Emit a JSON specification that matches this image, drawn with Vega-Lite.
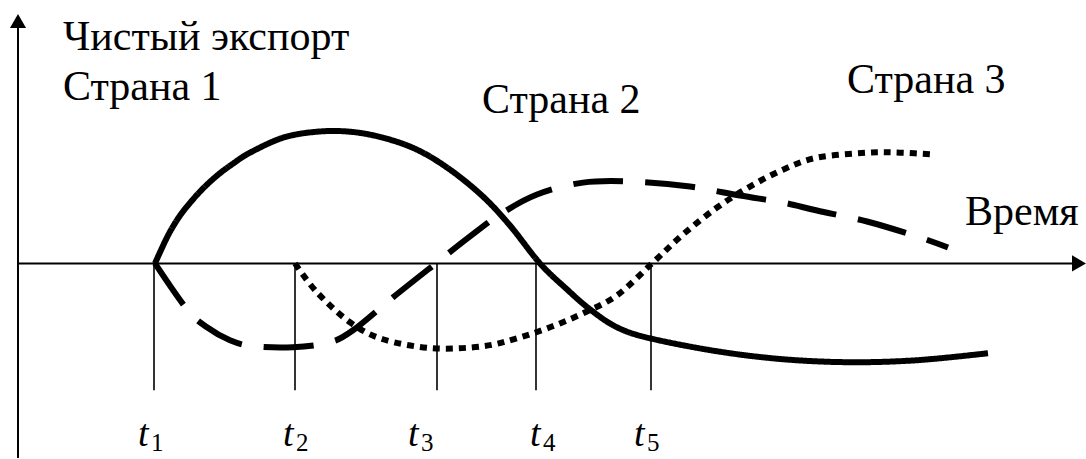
{
  "$schema": "https://vega.github.io/schema/vega-lite/v6.json",
  "autosize": {"type": "fit", "contains": "padding"},
  "width": 1086,
  "height": 459,
  "padding": 0,
  "background": "white",
  "config": {"view": {"stroke": null}},
  "datasets": {
    "curves": [
      {"s": "1", "t": 155, "v": 0}, {"s": "1", "t": 165, "v": 22}, {"s": "1", "t": 173, "v": 37}, {"s": "1", "t": 183, "v": 52}, {"s": "1", "t": 200, "v": 72}, {"s": "1", "t": 217, "v": 88}, {"s": "1", "t": 233, "v": 100}, {"s": "1", "t": 250, "v": 111},
      {"s": "1", "t": 283, "v": 126}, {"s": "1", "t": 317, "v": 132}, {"s": "1", "t": 350, "v": 132}, {"s": "1", "t": 383, "v": 126},
      {"s": "1", "t": 417, "v": 114}, {"s": "1", "t": 450, "v": 94}, {"s": "1", "t": 483, "v": 67}, {"s": "1", "t": 510, "v": 38},
      {"s": "1", "t": 540, "v": 0}, {"s": "1", "t": 567, "v": -26}, {"s": "1", "t": 590, "v": -46},
      {"s": "1", "t": 617, "v": -64}, {"s": "1", "t": 650, "v": -75}, {"s": "1", "t": 717, "v": -88}, {"s": "1", "t": 783, "v": -96},
      {"s": "1", "t": 850, "v": -99}, {"s": "1", "t": 917, "v": -97}, {"s": "1", "t": 988, "v": -90},
      {"s": "2", "t": 155, "v": 0}, {"s": "2", "t": 187, "v": -46}, {"s": "2", "t": 207, "v": -64}, {"s": "2", "t": 230, "v": -77},
      {"s": "2", "t": 253, "v": -83}, {"s": "2", "t": 293, "v": -84}, {"s": "2", "t": 330, "v": -79}, {"s": "2", "t": 353, "v": -67},
      {"s": "2", "t": 393, "v": -34}, {"s": "2", "t": 437, "v": 1}, {"s": "2", "t": 470, "v": 27}, {"s": "2", "t": 500, "v": 49},
      {"s": "2", "t": 537, "v": 69}, {"s": "2", "t": 583, "v": 81}, {"s": "2", "t": 633, "v": 82}, {"s": "2", "t": 690, "v": 77},
      {"s": "2", "t": 740, "v": 68}, {"s": "2", "t": 783, "v": 61}, {"s": "2", "t": 817, "v": 53}, {"s": "2", "t": 867, "v": 42},
      {"s": "2", "t": 917, "v": 27}, {"s": "2", "t": 948, "v": 16},
      {"s": "3", "t": 295, "v": 0}, {"s": "3", "t": 317, "v": -29}, {"s": "3", "t": 350, "v": -59}, {"s": "3", "t": 383, "v": -76},
      {"s": "3", "t": 433, "v": -85}, {"s": "3", "t": 483, "v": -83}, {"s": "3", "t": 517, "v": -75}, {"s": "3", "t": 550, "v": -64},
      {"s": "3", "t": 583, "v": -50}, {"s": "3", "t": 617, "v": -32}, {"s": "3", "t": 652, "v": 0}, {"s": "3", "t": 683, "v": 29},
      {"s": "3", "t": 717, "v": 56}, {"s": "3", "t": 750, "v": 77}, {"s": "3", "t": 783, "v": 94}, {"s": "3", "t": 817, "v": 106},
      {"s": "3", "t": 867, "v": 111}, {"s": "3", "t": 900, "v": 111}, {"s": "3", "t": 935, "v": 109}
    ],
    "marks": [
      {"name": "t", "t": 154, "lt": 138, "sub": "1"},
      {"name": "t", "t": 295, "lt": 283, "sub": "2"},
      {"name": "t", "t": 437, "lt": 408, "sub": "3"},
      {"name": "t", "t": 536, "lt": 530, "sub": "4"},
      {"name": "t", "t": 651, "lt": 634, "sub": "5"}
    ],
    "axes": [
      {"t": 18, "t2": 1078, "v": 0, "v2": 0},
      {"t": 18, "t2": 18, "v": -195, "v2": 245}
    ],
    "arrows": [
      {"t": 18, "v": 243, "shape": "triangle-up"},
      {"t": 1079, "v": 0, "shape": "triangle-right"}
    ],
    "labels": [
      {"t": 63, "v": 214, "label": "Чистый экспорт"},
      {"t": 63, "v": 164, "label": "Страна 1"},
      {"t": 482, "v": 151, "label": "Страна 2"},
      {"t": 847, "v": 171, "label": "Страна 3"},
      {"t": 965, "v": 39, "label": "Время"}
    ]
  },
  "layer": [
    {
      "data": {"name": "axes"},
      "mark": {"type": "rule", "color": "black", "strokeWidth": 2},
      "encoding": {
        "x": {"field": "t", "type": "quantitative", "scale": {"domain": [0, 1086], "nice": false, "zero": false}, "axis": null},
        "x2": {"field": "t2"},
        "y": {"field": "v", "type": "quantitative", "scale": {"domain": [-195, 264], "nice": false, "zero": false}, "axis": null},
        "y2": {"field": "v2"}
      }
    },
    {
      "data": {"name": "arrows"},
      "mark": {"type": "point", "filled": true, "color": "black", "size": 260, "opacity": 1},
      "encoding": {
        "x": {"field": "t", "type": "quantitative"},
        "y": {"field": "v", "type": "quantitative"},
        "shape": {"field": "shape", "type": "nominal", "scale": null}
      }
    },
    {
      "data": {"name": "marks"},
      "mark": {"type": "rule", "color": "black", "strokeWidth": 1.6},
      "encoding": {
        "x": {"field": "t", "type": "quantitative"},
        "y": {"datum": 0, "type": "quantitative"},
        "y2": {"datum": -127}
      }
    },
    {
      "data": {"name": "curves"},
      "mark": {"type": "line", "color": "black", "strokeWidth": 6, "interpolate": "cardinal", "strokeCap": "butt"},
      "encoding": {
        "x": {"field": "t", "type": "quantitative"},
        "y": {"field": "v", "type": "quantitative"},
        "strokeDash": {"field": "s", "type": "nominal", "scale": {"domain": ["1", "2", "3"], "range": [[1, 0], [50, 22], [7, 6]]}, "legend": null}
      }
    },
    {
      "data": {"name": "labels"},
      "mark": {"type": "text", "font": "Liberation Serif", "fontSize": 42, "align": "left", "baseline": "alphabetic", "color": "black"},
      "encoding": {
        "x": {"field": "t", "type": "quantitative"},
        "y": {"field": "v", "type": "quantitative"},
        "text": {"field": "label"}
      }
    },
    {
      "data": {"name": "marks"},
      "mark": {"type": "text", "font": "Liberation Serif", "fontStyle": "italic", "fontSize": 38, "align": "left", "baseline": "alphabetic", "color": "black"},
      "encoding": {
        "x": {"field": "lt", "type": "quantitative"},
        "y": {"datum": -183, "type": "quantitative"},
        "text": {"field": "name"}
      }
    },
    {
      "data": {"name": "marks"},
      "mark": {"type": "text", "font": "Liberation Serif", "fontSize": 25, "align": "left", "baseline": "alphabetic", "color": "black", "dx": 13},
      "encoding": {
        "x": {"field": "lt", "type": "quantitative"},
        "y": {"datum": -188, "type": "quantitative"},
        "text": {"field": "sub"}
      }
    }
  ]
}
